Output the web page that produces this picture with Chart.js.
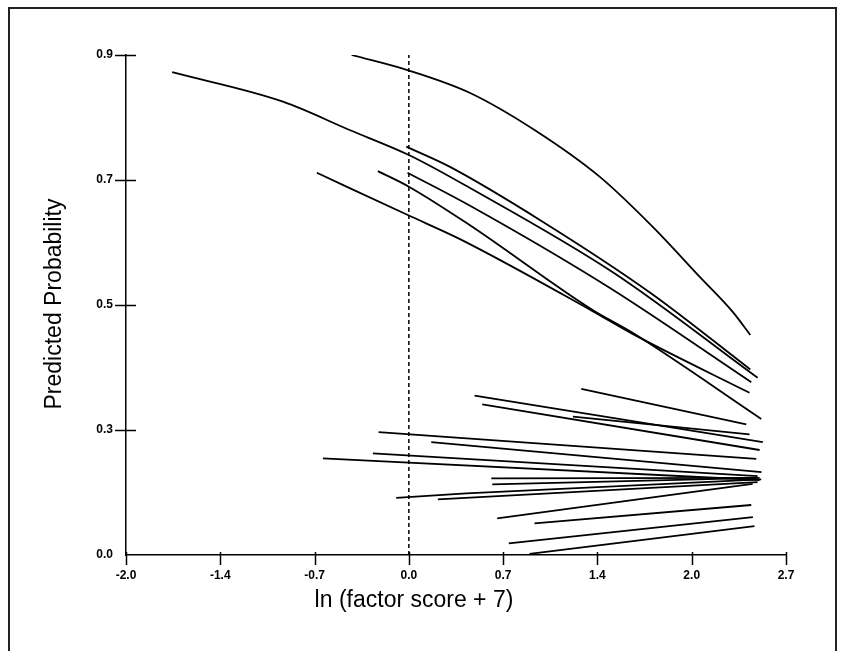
<!DOCTYPE html>
<html>
<head>
<meta charset="utf-8">
<title>Predicted Probability</title>
<script src="https://cdn.jsdelivr.net/npm/chart.js@4.4.1/dist/chart.umd.min.js"></script>
<style>
    html, body { margin: 0; padding: 0; background: #fff; }
    #wrap { width: 845px; height: 651px; position: relative; }
</style>
</head>
<body>
<div id="wrap"><canvas id="probChart" width="845" height="651"></canvas></div>
<script>
// axis ticks (positions are evenly spaced, labels as printed on the original)
const xTickValues = [-2.1, -1.4, -0.7, 0, 0.7, 1.4, 2.1, 2.8];
const xTickLabels = ['-2.0', '-1.4', '-0.7', '0.0', '0.7', '1.4', '2.0', '2.7'];
const yTickValues = [0, 0.225, 0.45, 0.675, 0.9];
const yTickLabels = ['0.0', '0.3', '0.5', '0.7', '0.9'];

// upper group: curved lines, [x, y] points
const upperCurves = [
    [[-0.425, 0.900], [0, 0.872], [0.451, 0.832], [0.933, 0.765], [1.416, 0.681], [1.809, 0.591], [2.158, 0.501], [2.403, 0.438], [2.535, 0.396]],
    [[-1.757, 0.869], [-0.935, 0.816], [-0.440, 0.765], [0, 0.720], [0.451, 0.661], [1.520, 0.508], [2.589, 0.319]],
    [[-0.019, 0.735], [0.302, 0.699], [0.993, 0.600], [1.787, 0.473], [2.535, 0.334]],
    [[-0.010, 0.688], [0.451, 0.629], [1.490, 0.481], [2.542, 0.311]],
    [[-0.230, 0.691], [0, 0.663], [0.451, 0.594], [1.364, 0.441], [1.661, 0.400], [2.616, 0.245]],
    [[-0.683, 0.688], [0, 0.611], [0.376, 0.569], [1.364, 0.439], [1.661, 0.398], [2.529, 0.292]]
];

// lower group: nearly straight lines
const lowerLines = [
    [[1.280, 0.299], [2.505, 0.235]],
    [[0.488, 0.287], [2.628, 0.203]],
    [[0.545, 0.271], [2.604, 0.189]],
    [[1.218, 0.249], [2.529, 0.217]],
    [[-0.225, 0.221], [2.579, 0.173]],
    [[0.166, 0.203], [2.618, 0.149]],
    [[-0.267, 0.183], [2.589, 0.142]],
    [[-0.638, 0.174], [2.604, 0.135]],
    [[0.612, 0.138], [2.581, 0.139]],
    [[0.619, 0.127], [2.604, 0.139]],
    [[-0.094, 0.103], [0.426, 0.111], [2.616, 0.136]],
    [[0.215, 0.100], [2.589, 0.131]],
    [[0.656, 0.066], [2.552, 0.128]],
    [[0.933, 0.057], [2.542, 0.090]],
    [[0.742, 0.021], [2.554, 0.068]],
    [[0.896, 0.002], [2.566, 0.052]]
];

// dashed reference line at x = 0
const refLineX = [0, 0];
const refLineY = [0, 0.9];

const xTitle = 'ln (factor score + 7)';
const yTitle = 'Predicted Probability';

const tickFont = { family: "'Liberation Sans', Arial, sans-serif", size: 12, weight: 'bold' };
const titleFont = "23px 'Liberation Sans', Arial, sans-serif";

function toPoints(pairs) {
    return pairs.map(p => ({ x: p[0], y: p[1] }));
}

function buildDatasets() {
    const datasets = [];

    upperCurves.forEach(curve => {
        datasets.push({
            data: toPoints(curve),
            borderColor: '#000',
            borderWidth: 1.8,
            cubicInterpolationMode: 'monotone',
            pointRadius: 0,
            showLine: true
        });
    });

    lowerLines.forEach(line => {
        datasets.push({
            data: toPoints(line),
            borderColor: '#000',
            borderWidth: 1.8,
            pointRadius: 0,
            showLine: true
        });
    });

    datasets.push({
        data: refLineX.map((x, i) => ({ x: x, y: refLineY[i] })),
        borderColor: '#000',
        borderWidth: 1.5,
        borderDash: [4, 3],
        pointRadius: 0,
        showLine: true
    });

    return datasets;
}

// tick marks crossing the axes, outer frame and axis titles
const decorations = {
    id: 'decorations',
    afterDraw(chart) {
        const ctx = chart.ctx;
        const area = chart.chartArea;
        const xs = chart.scales.x;
        const ys = chart.scales.y;

        ctx.save();
        ctx.strokeStyle = '#000';
        ctx.lineWidth = 1.5;
        ctx.beginPath();
        xTickValues.forEach(v => {
            const px = Math.round(xs.getPixelForValue(v)) + 0.5;
            ctx.moveTo(px, area.bottom - 3);
            ctx.lineTo(px, area.bottom + 10);
        });
        yTickValues.forEach(v => {
            if (v === 0) return;
            const py = Math.round(ys.getPixelForValue(v)) + 0.5;
            ctx.moveTo(area.left - 11, py);
            ctx.lineTo(area.left + 10, py);
        });
        ctx.stroke();

        ctx.strokeStyle = '#222';
        ctx.lineWidth = 2;
        ctx.strokeRect(9, 8, 827, 700);

        ctx.fillStyle = '#000';
        ctx.font = titleFont;
        ctx.textAlign = 'center';
        ctx.textBaseline = 'middle';
        ctx.fillText(xTitle, 414, 601);

        ctx.translate(55, 304);
        ctx.rotate(-Math.PI / 2);
        ctx.fillText(yTitle, 0, 0);
        ctx.restore();
    }
};

function drawChart() {
    const ctx = document.getElementById('probChart').getContext('2d');
    new Chart(ctx, {
        type: 'scatter',
        data: { datasets: buildDatasets() },
        options: {
            responsive: false,
            animation: false,
            devicePixelRatio: 1,
            layout: { padding: { top: 55, right: 59, left: 0, bottom: 0 } },
            plugins: {
                legend: { display: false },
                tooltip: { enabled: false }
            },
            scales: {
                x: {
                    type: 'linear',
                    min: -2.1,
                    max: 2.8,
                    grid: { display: false, drawTicks: false },
                    border: { display: true, color: '#000', width: 1.5 },
                    afterBuildTicks: axis => {
                        axis.ticks = xTickValues.map(v => ({ value: v }));
                    },
                    afterFit: axis => { axis.height = 96; },
                    ticks: {
                        autoSkip: false,
                        maxRotation: 0,
                        padding: 13,
                        color: '#000',
                        font: tickFont,
                        callback: (value, index) => xTickLabels[index]
                    }
                },
                y: {
                    type: 'linear',
                    min: 0,
                    max: 0.9,
                    grid: { display: false, drawTicks: false },
                    border: { display: true, color: '#000', width: 1.5 },
                    afterBuildTicks: axis => {
                        axis.ticks = yTickValues.map(v => ({ value: v }));
                    },
                    afterFit: axis => { axis.width = 126; },
                    ticks: {
                        autoSkip: false,
                        padding: 13,
                        color: '#000',
                        font: tickFont,
                        callback: (value, index) => yTickLabels[index]
                    }
                }
            }
        },
        plugins: [decorations]
    });
}

document.addEventListener('DOMContentLoaded', drawChart);
</script>
</body>
</html>
